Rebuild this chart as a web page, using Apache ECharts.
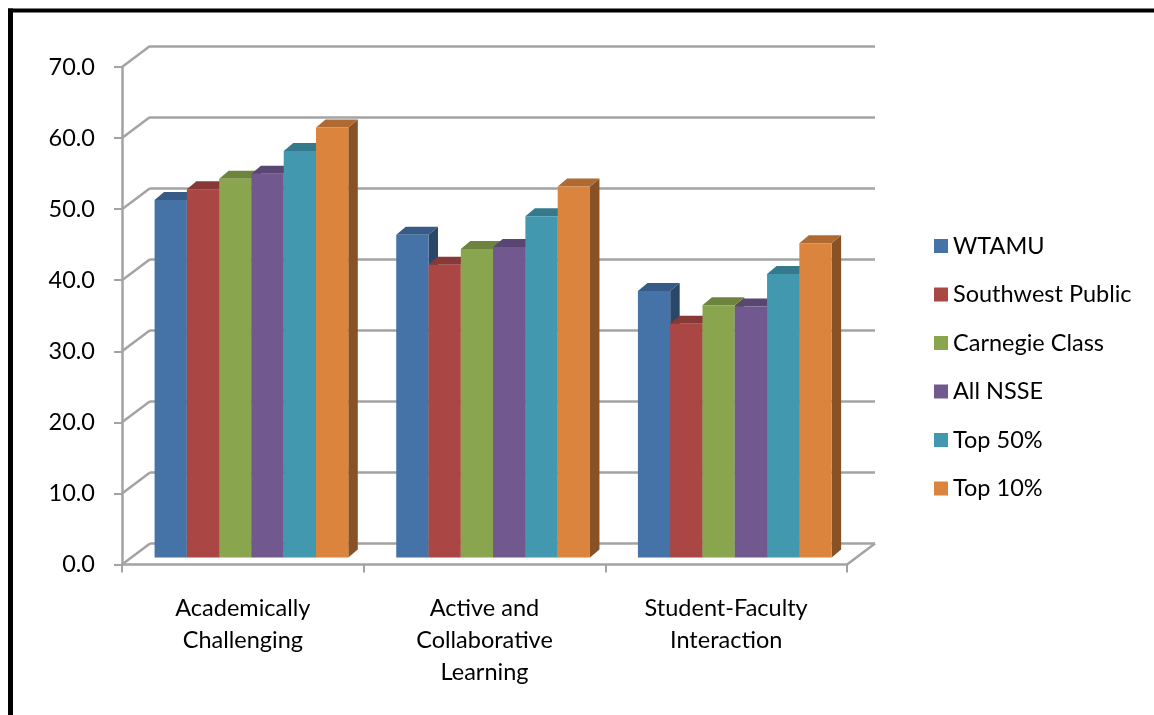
<!DOCTYPE html>
<html>
<head>
<meta charset="utf-8">
<script src="https://cdn.jsdelivr.net/npm/echarts@6/dist/echarts.min.js"></script>
<style>
  html, body { margin: 0; padding: 0; background: #ffffff; }
  #chart { width: 1154px; height: 715px; }
</style>
</head>
<body>
<div id="chart"></div>
<script>
// Engagement indicator means by comparison group
const categories = ['Academically\nChallenging', 'Active and\nCollaborative\nLearning', 'Student-Faculty\nInteraction'];
const seriesNames = ['WTAMU', 'Southwest Public', 'Carnegie Class', 'All NSSE', 'Top 50%', 'Top 10%'];
const wtamu = [50.3, 45.4, 37.5];
const southwestPublic = [51.8, 41.2, 32.9];
const carnegieClass = [53.3, 43.4, 35.5];
const allNsse = [54.0, 43.7, 35.3];
const top50 = [57.2, 48.0, 39.9];
const top10 = [60.5, 52.2, 44.2];
const yTicks = [0, 10, 20, 30, 40, 50, 60, 70];

const seriesValues = [wtamu, southwestPublic, carnegieClass, allNsse, top50, top10];
const faceColors = ['#4572A7', '#AA4643', '#89A54E', '#71588F', '#4198AF', '#DB843D'];

const FONT = 'Lato';
const FONT_SIZE = 23.5;
const WALL = '#A3A3A3';
// Depth of the box (back wall relative to front plane)
const WALL_DX = 28, WALL_DY = -21;
// Bars stand in the middle of the floor depth
const BAR_OFF_X = 8.6, BAR_OFF_Y = -7;
const BAR_DX = 9.5, BAR_DY = -8;
const BAR_RATIO = 0.1336;

function shade(hex, f) {
  const n = parseInt(hex.slice(1), 16);
  const r = Math.round(((n >> 16) & 255) * f);
  const g = Math.round(((n >> 8) & 255) * f);
  const b = Math.round((n & 255) * f);
  return 'rgb(' + r + ',' + g + ',' + b + ')';
}

function barRenderer(si) {
  const color = faceColors[si];
  return function (params, api) {
    const j = api.value(0), v = api.value(1);
    const base = api.coord([j, 0]);
    const top = api.coord([j, v]);
    const band = api.size([1, 0])[0];
    const w = band * BAR_RATIO;
    const x0 = base[0] - 3 * w + si * w + BAR_OFF_X;
    const x1 = x0 + w;
    const yb = base[1] + BAR_OFF_Y;
    const yt = top[1] + BAR_OFF_Y;
    return {
      type: 'group',
      children: [
        { type: 'polygon', shape: { points: [[x1, yb], [x1 + BAR_DX, yb + BAR_DY], [x1 + BAR_DX, yt + BAR_DY], [x1, yt]] },
          style: { fill: shade(color, 0.62) } },
        { type: 'polygon', shape: { points: [[x0, yt], [x0 + BAR_DX, yt + BAR_DY], [x1 + BAR_DX, yt + BAR_DY], [x1, yt]] },
          style: { fill: shade(color, 0.8) } },
        { type: 'rect', shape: { x: x0, y: yt, width: w, height: yb - yt },
          style: { fill: color } }
      ]
    };
  };
}

const barSeries = seriesNames.map(function (name, si) {
  return {
    type: 'custom',
    name: name,
    xAxisIndex: 0,
    yAxisIndex: 0,
    itemStyle: { color: faceColors[si] },
    renderItem: barRenderer(si),
    encode: { x: 0, y: 1 },
    data: seriesValues[si].map(function (v, j) { return [j, v]; }),
    z: 3
  };
});

// Side wall and floor edge lines joining the front plane to the back wall
const wallSeries = {
  type: 'custom',
  name: 'walls',
  xAxisIndex: 0,
  yAxisIndex: 0,
  silent: true,
  z: 1,
  renderItem: function (params, api) {
    const cs = params.coordSys;
    const y = api.coord([0, api.value(0)])[1];
    const children = [
      { type: 'line', shape: { x1: cs.x, y1: y, x2: cs.x + WALL_DX, y2: y + WALL_DY },
        style: { stroke: WALL, lineWidth: 2.5 } }
    ];
    if (params.dataIndex === 0) {
      const xr = cs.x + cs.width;
      children.push({ type: 'line', shape: { x1: xr, y1: y, x2: xr + WALL_DX, y2: y + WALL_DY },
        style: { stroke: WALL, lineWidth: 2.5 } });
    }
    return { type: 'group', children: children };
  },
  encode: { y: 0 },
  data: yTicks.map(function (t) { return [t]; })
};

const chart = echarts.init(document.getElementById('chart'), null, { renderer: 'canvas' });
chart.setOption({
  backgroundColor: '#ffffff',
  animation: false,
  textStyle: { fontFamily: FONT },
  graphic: [
    { type: 'line', shape: { x1: 8, y1: 10.5, x2: 1154, y2: 10.5 }, style: { stroke: '#000', lineWidth: 4 } },
    { type: 'line', shape: { x1: 10.5, y1: 8.5, x2: 10.5, y2: 715 }, style: { stroke: '#000', lineWidth: 5 } }
  ],
  legend: {
    orient: 'vertical',
    left: 929,
    top: 227,
    itemWidth: 14,
    itemHeight: 14,
    itemGap: 20.5,
    icon: 'rect',
    data: seriesNames,
    textStyle: { fontFamily: FONT, fontSize: FONT_SIZE, color: '#000', lineHeight: 28 }
  },
  grid: [
    { left: 122, right: 307, top: 67, bottom: 150.5 },
    { left: 150, right: 279, top: 46, bottom: 171.5 }
  ],
  xAxis: [
    {
      type: 'category',
      gridIndex: 0,
      data: categories,
      axisLine: { lineStyle: { color: WALL, width: 2.5 } },
      axisTick: { show: true, length: 8, lineStyle: { color: WALL, width: 2 } },
      axisLabel: { color: '#000', fontFamily: FONT, fontSize: FONT_SIZE, lineHeight: 32, margin: 28, interval: 0 }
    },
    {
      type: 'category',
      gridIndex: 1,
      data: categories,
      show: false
    }
  ],
  yAxis: [
    {
      type: 'value',
      gridIndex: 0,
      min: 0, max: 70, interval: 10,
      axisLine: { show: true, lineStyle: { color: WALL, width: 2.5 } },
      axisTick: { show: true, length: 8, lineStyle: { color: WALL, width: 2 } },
      splitLine: { show: false },
      axisLabel: { color: '#000', fontFamily: FONT, fontSize: FONT_SIZE, margin: 27, padding: [5, 0, 0, 0],
        formatter: function (v) { return v.toFixed(1); } }
    },
    {
      type: 'value',
      gridIndex: 1,
      min: 0, max: 70, interval: 10,
      axisLine: { show: false },
      axisTick: { show: false },
      axisLabel: { show: false },
      splitLine: { show: true, lineStyle: { color: WALL, width: 2.5 } }
    }
  ],
  series: [wallSeries].concat(barSeries)
});
</script>
</body>
</html>
